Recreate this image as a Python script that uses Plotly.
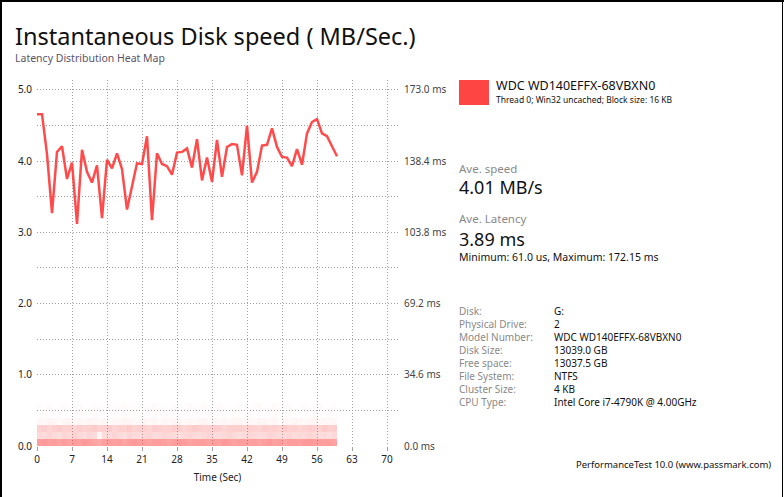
import plotly.graph_objects as go

# ---------------- data ----------------
time_sec = list(range(61))
speed_mbs = [4.66, 4.66, 4.10, 3.27, 4.13, 4.21, 3.75, 3.98, 3.12, 4.16,
             3.85, 3.70, 3.94, 3.20, 4.02, 3.90, 4.11, 3.89, 3.32, 3.63,
             3.97, 3.96, 4.35, 3.17, 4.11, 3.96, 3.93, 3.81, 4.12, 4.13,
             4.18, 3.91, 4.31, 3.73, 4.05, 3.71, 4.30, 3.78, 4.20, 4.24,
             4.23, 3.80, 4.50, 3.70, 3.85, 4.22, 4.23, 4.46, 4.20, 4.06,
             4.05, 3.93, 4.17, 3.95, 4.39, 4.55, 4.59, 4.39, 4.35, 4.21,
             4.07]

# latency heat map: intensity per 1-second column, rows are 3.46 ms latency bins from 0 ms
heat_row0 = [0.50, 0.52, 0.49, 0.50, 0.48, 0.51, 0.47, 0.50, 0.49, 0.52, 0.50, 0.48, 0.44, 0.50, 0.51, 0.49, 0.50, 0.47, 0.50, 0.52,
             0.49, 0.50, 0.48, 0.51, 0.50, 0.49, 0.47, 0.50, 0.52, 0.50, 0.48, 0.49, 0.51, 0.50, 0.47, 0.50, 0.49, 0.52, 0.50, 0.48,
             0.50, 0.51, 0.49, 0.50, 0.48, 0.50, 0.52, 0.49, 0.50, 0.47, 0.50, 0.51, 0.49, 0.52, 0.53, 0.50, 0.51, 0.49, 0.50, 0.48]
heat_row1 = [0.20, 0.18, 0.22, 0.19, 0.17, 0.21, 0.19, 0.23, 0.20, 0.18, 0.21, 0.19, 0.06, 0.18, 0.20, 0.22, 0.19, 0.17, 0.21, 0.19,
             0.18, 0.20, 0.22, 0.18, 0.19, 0.21, 0.20, 0.18, 0.17, 0.20, 0.21, 0.19, 0.18, 0.20, 0.22, 0.19, 0.18, 0.20, 0.21, 0.19,
             0.17, 0.19, 0.21, 0.20, 0.18, 0.19, 0.22, 0.20, 0.18, 0.19, 0.21, 0.18, 0.20, 0.19, 0.22, 0.20, 0.18, 0.19, 0.17, 0.20]
heat_row2 = [0.24, 0.26, 0.22, 0.25, 0.27, 0.23, 0.25, 0.22, 0.26, 0.24, 0.25, 0.27, 0.23, 0.24, 0.26, 0.22, 0.25, 0.24, 0.27, 0.23,
             0.25, 0.24, 0.22, 0.26, 0.25, 0.23, 0.24, 0.26, 0.25, 0.22, 0.24, 0.27, 0.25, 0.23, 0.24, 0.26, 0.25, 0.22, 0.24, 0.25,
             0.26, 0.23, 0.25, 0.24, 0.22, 0.26, 0.24, 0.25, 0.23, 0.27, 0.24, 0.25, 0.22, 0.24, 0.26, 0.25, 0.23, 0.28, 0.24, 0.25]
heat_row3 = [0.04, 0.03, 0.05, 0.04, 0.02, 0.04, 0.05, 0.03, 0.04, 0.03, 0.05, 0.04, 0.03, 0.04, 0.02, 0.04, 0.03, 0.05, 0.04, 0.03,
             0.04, 0.05, 0.03, 0.04, 0.02, 0.04, 0.03, 0.04, 0.05, 0.03, 0.04, 0.03, 0.04, 0.05, 0.03, 0.04, 0.02, 0.04, 0.03, 0.05,
             0.04, 0.03, 0.04, 0.03, 0.05, 0.04, 0.03, 0.04, 0.02, 0.04, 0.03, 0.05, 0.04, 0.03, 0.04, 0.05, 0.03, 0.04, 0.03, 0.04]
heat_row4 = [0.01, 0.02, 0.01, 0.01, 0.02, 0.01, 0.01, 0.01, 0.02, 0.01, 0.01, 0.02, 0.01, 0.01, 0.01, 0.01, 0.02, 0.01, 0.01, 0.02,
             0.01, 0.01, 0.01, 0.02, 0.01, 0.01, 0.02, 0.01, 0.01, 0.01, 0.01, 0.02, 0.01, 0.01, 0.02, 0.01, 0.01, 0.01, 0.01, 0.02,
             0.01, 0.01, 0.02, 0.01, 0.01, 0.01, 0.01, 0.02, 0.01, 0.01, 0.02, 0.01, 0.01, 0.01, 0.01, 0.02, 0.01, 0.01, 0.02, 0.01]
heat_row5 = [0.02, 0.01, 0.02, 0.01, 0.01, 0.02, 0.01, 0.01, 0.02, 0.01, 0.01, 0.02, 0.01, 0.01, 0.02, 0.01, 0.01, 0.02, 0.01, 0.01,
             0.02, 0.01, 0.01, 0.02, 0.01, 0.01, 0.01, 0.02, 0.01, 0.01, 0.02, 0.01, 0.01, 0.02, 0.01, 0.01, 0.02, 0.01, 0.01, 0.01,
             0.02, 0.01, 0.01, 0.02, 0.03, 0.01, 0.01, 0.02, 0.01, 0.01, 0.02, 0.01, 0.01, 0.02, 0.01, 0.01, 0.02, 0.01, 0.01, 0.02]
heat_rows = [heat_row0, heat_row1, heat_row2, heat_row3, heat_row4, heat_row5]
heat_bin_ms = 3.46

left_ticks = [0, 0.5, 1, 1.5, 2, 2.5, 3, 3.5, 4, 4.5, 5]
left_ticktext = ["0.0", "", "1.0", "", "2.0", "", "3.0", "", "4.0", "", "5.0"]
latency_ticks = [0.0, 34.6, 69.2, 103.8, 138.4, 173.0]
latency_ticktext = ["0.0 ms", "34.6 ms", "69.2 ms", "103.8 ms", "138.4 ms", "173.0 ms"]
x_ticks = [0, 7, 14, 21, 28, 35, 42, 49, 56, 63, 70]

drive_name = "WDC WD140EFFX-68VBXN0"
drive_sub = "Thread 0; Win32 uncached; Block size: 16 KB"
info_labels = ["Disk:", "Physical Drive:", "Model Number:", "Disk Size:", "Free space:",
               "File System:", "Cluster Size:", "CPU Type:"]
info_values = ["G:", "2", "WDC WD140EFFX-68VBXN0", "13039.0 GB", "13037.5 GB",
               "NTFS", "4 KB", "Intel Core i7-4790K @ 4.00GHz"]

# ---------------- figure ----------------
W, H = 784, 497
L, R, T, B = 37, 386, 80, 51
PW, PH = W - L - R, H - T - B
Y0 = H - B  # pixel row of the plot bottom
YMAX = 5.14

def px(X):
    return (X - L) / PW

def py(Y):
    return (Y0 - Y) / PH

FONT = "Noto Sans"
RED = "rgb(255,60,60)"
GRID = "#a0a0a0"

fig = go.Figure()

fig.add_trace(go.Heatmap(
    z=heat_rows, x0=0.5, dx=1, y0=heat_bin_ms / 2, dy=heat_bin_ms,
    zmin=0, zmax=1, yaxis="y2",
    colorscale=[[0, "rgba(255,60,60,0)"], [1, "rgba(255,60,60,1)"]],
    showscale=False, hoverinfo="skip"))

fig.add_trace(go.Scatter(
    x=time_sec, y=speed_mbs, mode="lines",
    line=dict(color=RED, width=2.5), opacity=0.92, showlegend=False))

grid = dict(showgrid=True, gridcolor=GRID, griddash="1px,2px", gridwidth=1,
            zeroline=False, showline=False)

fig.update_layout(
    width=W, height=H,
    margin=dict(l=L, r=R, t=T, b=B, pad=0),
    paper_bgcolor="white", plot_bgcolor="white",
    font=dict(family=FONT, color="#222"),
    showlegend=False,
    xaxis=dict(range=[0, 72.2], tickvals=x_ticks, ticks="outside", ticklen=4,
               tickcolor=GRID, tickfont=dict(size=10, color="#222"),
               title=dict(text="Time (Sec)", font=dict(size=10, color="#222"), standoff=8),
               **grid),
    yaxis=dict(range=[0, YMAX], tickvals=left_ticks, ticktext=left_ticktext,
               ticks="", tickfont=dict(size=10, color="#222"), ticklabelstandoff=4,
               **grid),
    yaxis2=dict(range=[0, YMAX * 34.6], overlaying="y", side="right",
                tickvals=latency_ticks, ticktext=latency_ticktext, ticks="",
                tickfont=dict(size=10, color="#444"), ticklabelstandoff=5,
                showgrid=False, zeroline=False, showline=False),
)

ann = []
def text(X, Y, s, size, color="#111", anchor="left", yanchor="middle"):
    ann.append(dict(x=px(X), y=py(Y), xref="paper", yref="paper", text=s,
                    showarrow=False, xanchor=anchor, yanchor=yanchor, align="left",
                    font=dict(family=FONT, size=size, color=color)))

text(13, 36, "Instantaneous Disk speed ( MB/Sec.)", 23.5)
text(13, 58, "Latency Distribution Heat Map", 10.5, "#5a5468")
text(494, 85, drive_name, 12.5)
text(494, 100, drive_sub, 8.5)
text(457, 168, "Ave. speed", 11.5, "#8a8a8a")
text(457, 187, "4.01 MB/s", 18)
text(457, 218, "Ave. Latency", 11.5, "#8a8a8a")
text(457, 239, "3.89 ms", 18)
text(457, 257, "Minimum: 61.0 us, Maximum: 172.15 ms", 10.5)
text(457, 302, "<br>".join(info_labels), 10, "#8a8a8a", yanchor="top")
text(552, 302, "<br>".join(info_values), 10, "#111", yanchor="top")
text(574, 464, "PerformanceTest 10.0 (www.passmark.com)", 9.5)
fig.update_layout(annotations=ann)

shapes = [
    dict(type="rect", xref="paper", yref="paper", x0=px(459), x1=px(489), y0=py(105), y1=py(80),
         fillcolor="rgb(255,68,68)", line=dict(width=0)),
    # window frame
    dict(type="line", xref="paper", yref="paper", x0=px(0), x1=px(784), y0=py(1), y1=py(1),
         line=dict(color="black", width=2)),
    dict(type="line", xref="paper", yref="paper", x0=px(1), x1=px(1), y0=py(0), y1=py(497),
         line=dict(color="black", width=2)),
    dict(type="line", xref="paper", yref="paper", x0=px(782.5), x1=px(782.5), y0=py(0), y1=py(497),
         line=dict(color="black", width=1)),
]
fig.update_layout(shapes=shapes)

fig.write_html("out.html", config={"displayModeBar": False},
               post_script="document.body.style.margin='0';document.body.style.overflow='hidden';")
